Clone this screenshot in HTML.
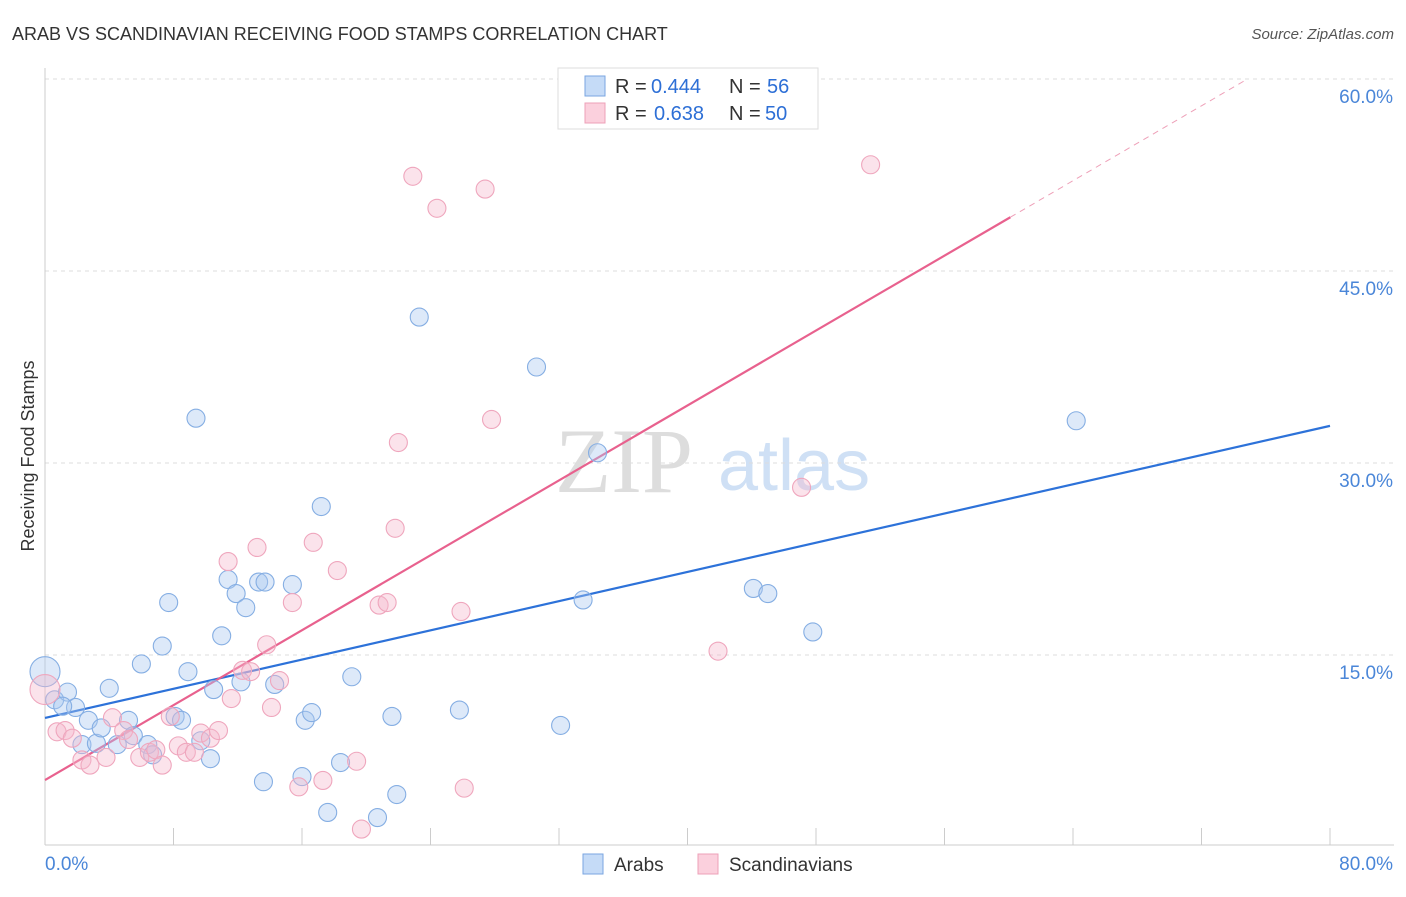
<!DOCTYPE html>
<html><head><meta charset="utf-8"><style>
body{margin:0;background:#fff;font-family:"Liberation Sans",sans-serif;}
</style></head><body>
<svg id="chart" width="1406" height="892" xmlns="http://www.w3.org/2000/svg">
<text x="12" y="40" font-size="18" fill="#333">ARAB VS SCANDINAVIAN RECEIVING FOOD STAMPS CORRELATION CHART</text>
<text x="1394" y="39" font-size="15" fill="#555" font-style="italic" text-anchor="end">Source: ZipAtlas.com</text>
<text x="0" y="0" font-size="18" fill="#333" text-anchor="middle" transform="translate(34,456) rotate(-90)">Receiving Food Stamps</text>
<g>
<text x="555" y="492" font-size="92" fill="#ddd" font-family="Liberation Serif,serif">ZIP</text>
<text x="718" y="490" font-size="72" fill="#cfe0f5">atlas</text>
</g>
<g id="grid"></g><g id="axes"></g><g id="lines"></g><g id="pts"></g>
<g>
<rect x="558" y="68" width="260" height="61" fill="#fff" stroke="#ddd"/>
<rect x="585" y="76" width="20" height="20" fill="#c5dbf7" stroke="#7aa6e0"/>
<rect x="585" y="103" width="20" height="20" fill="#fbd0dd" stroke="#eea0b8"/>
<text x="615" y="93" font-size="20" fill="#333">R =</text>
<text x="651" y="93" font-size="20" fill="#2d6fd6">0.444</text>
<text x="729" y="93" font-size="20" fill="#333">N =</text>
<text x="767" y="93" font-size="20" fill="#2d6fd6">56</text>
<text x="615" y="120" font-size="20" fill="#333">R =</text>
<text x="654" y="120" font-size="20" fill="#2d6fd6">0.638</text>
<text x="729" y="120" font-size="20" fill="#333">N =</text>
<text x="765" y="120" font-size="20" fill="#2d6fd6">50</text>
</g>
<g>
<rect x="583" y="854" width="20" height="20" fill="#c5dbf7" stroke="#7aa6e0"/>
<text x="614" y="871" font-size="19" fill="#333">Arabs</text>
<rect x="698" y="854" width="20" height="20" fill="#fbd0dd" stroke="#eea0b8"/>
<text x="729" y="871" font-size="19" fill="#333">Scandinavians</text>
</g>
</svg>
<script>
const yTicks=[15,30,45,60];
const yTickLabels=["15.0%","30.0%","45.0%","60.0%"];
const xTicks=[0,8,16,24,32,40,48,56,64,72,80];
const arabX=[0,0.6,1.4,1.9,1.1,2.7,2.3,3.2,3.5,4.0,4.5,5.2,5.5,6.0,6.4,6.7,7.3,7.7,8.1,8.5,8.9,9.4,9.7,10.3,10.5,11.0,11.4,11.9,12.2,12.5,13.3,13.7,13.6,14.3,15.4,16.0,16.2,16.6,17.2,18.4,19.1,17.6,20.7,21.6,21.9,23.3,25.8,30.6,32.1,33.5,34.4,44.1,45.0,47.8,64.2];
const arabY=[13.7,11.5,12.1,10.9,11.0,9.9,8.0,8.1,9.3,12.4,8.0,9.9,8.7,14.3,8.0,7.2,15.7,19.1,10.2,9.9,13.7,33.5,8.3,6.9,12.3,16.5,20.9,19.8,12.9,18.7,20.7,20.7,5.1,12.7,20.5,5.5,9.9,10.5,26.6,6.6,13.3,2.7,2.3,10.2,4.1,41.4,10.7,37.5,9.5,19.3,30.8,20.2,19.8,16.8,33.3];
const scanX=[0,0.75,1.25,1.7,2.3,2.8,3.8,4.2,4.9,5.2,5.9,6.5,6.9,7.3,7.8,8.3,8.8,9.3,9.7,10.3,10.8,11.4,11.6,12.3,12.8,13.2,13.8,14.1,14.6,15.4,15.8,16.7,17.3,18.2,19.4,19.7,20.8,21.3,21.8,22.0,22.9,24.4,25.9,26.1,27.4,27.8,41.9,47.1,51.4];
const scanY=[12.3,9.0,9.1,8.5,6.8,6.4,7.0,10.1,9.1,8.4,7.0,7.4,7.6,6.4,10.2,7.9,7.4,7.4,8.9,8.5,9.1,22.3,11.6,13.8,13.7,23.4,15.8,10.9,13.0,19.1,4.7,23.8,5.2,21.6,6.7,1.4,18.9,19.1,24.9,31.6,52.4,49.9,18.4,4.6,51.4,33.4,15.3,28.1,53.3];
const arabFit=[10.08,32.9];
const scanFit=[5.23,49.2,60.1];
const X0=45,X1=1330,Y0=847,PY=12.8;
const xs=v=>X0+v*(X1-X0)/80, ys=v=>Y0-v*PY;
const NS="http://www.w3.org/2000/svg";
function mk(p,t,a){const e=document.createElementNS(NS,t);for(const k in a)e.setAttribute(k,a[k]);document.getElementById(p).appendChild(e);return e;}
yTicks.forEach((t,i)=>{
 const l=mk('grid','line',{x1:45,x2:1394,y1:ys(t),y2:ys(t),stroke:'#ddd','stroke-dasharray':'4,4'});
 
 
 const tx=mk('grid','text',{x:1393,y:ys(t)+24,'font-size':19,fill:'#4a86d8','text-anchor':'end'});
 tx.textContent=yTickLabels[i];
 
 
});
let a=mk('axes','line',{x1:45,x2:45,y1:68,y2:845,stroke:'#ccc'});


a=mk('axes','line',{x1:45,x2:1394,y1:845,y2:845,stroke:'#ccc'});


xTicks.forEach(t=>{const l=mk('axes','line',{x1:xs(t),x2:xs(t),y1:828,y2:845,stroke:'#ccc'});
 
 });
let t0=mk('axes','text',{x:45,y:870,'font-size':19,fill:'#4a86d8'});t0.textContent='0.0%';


let t1=mk('axes','text',{x:1393,y:870,'font-size':19,fill:'#4a86d8','text-anchor':'end'});t1.textContent='80.0%';


function pts(X,Y,fill,stroke,name){X.forEach((x,i)=>{const c=mk('pts','circle',{cx:xs(x),cy:ys(Y[i]),r:i==0?15:9,fill:fill,stroke:stroke,'stroke-width':1.1});
 
 });}
pts(arabX,arabY,'rgba(170,200,240,0.4)','#85aee3','arab-point');
pts(scanX,scanY,'rgba(245,185,205,0.4)','#efa6bd','scandinavian-point');
let ln=mk('lines','line',{x1:xs(0),y1:ys(arabFit[0]),x2:xs(80),y2:ys(arabFit[1]),stroke:'#2d72d9','stroke-width':2.2});


const sl=(scanFit[1]-scanFit[0])/scanFit[2];
ln=mk('lines','line',{x1:xs(0),y1:ys(scanFit[0]),x2:xs(scanFit[2]),y2:ys(scanFit[1]),stroke:'#e8618e','stroke-width':2.2});


const xe=(60-scanFit[0])/sl;
ln=mk('lines','line',{x1:xs(scanFit[2]),y1:ys(scanFit[1]),x2:xs(xe),y2:ys(60),stroke:'#eea0b8','stroke-width':1,'stroke-dasharray':'6,5'});


</script>
</body></html>
